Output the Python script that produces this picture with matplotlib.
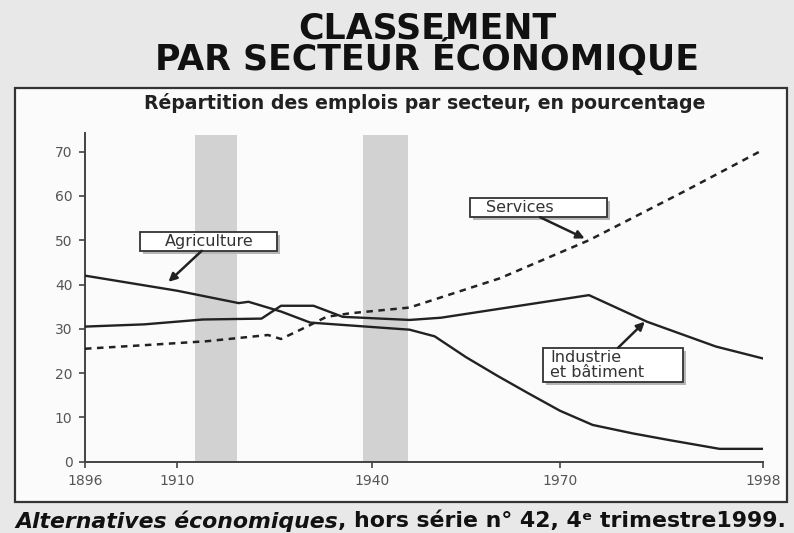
import numpy as np
import matplotlib
matplotlib.use("Agg")
import matplotlib.pyplot as plt
from matplotlib.patches import Rectangle
from matplotlib.transforms import offset_copy

# ---------------- data ----------------
tick_years = [1896, 1910, 1940, 1970, 1998]
tick_labels = ["1896", "1910", "1940", "1970", "1998"]
y_ticks = [0, 10, 20, 30, 40, 50, 60, 70]

agri_years = [1896, 1910, 1919.5, 1921, 1926, 1930.5, 1946, 1950, 1955, 1960, 1965, 1970, 1974.5, 1980, 1985, 1992, 1998]
agri_vals = [42.0, 38.6, 35.8, 36.1, 33.9, 31.4, 29.8, 28.3, 23.6, 19.4, 15.4, 11.5, 8.3, 6.4, 4.9, 2.9, 2.9]

ind_years = [1896, 1905, 1914, 1923, 1926, 1931, 1935.5, 1946, 1951, 1974, 1982, 1991.5, 1998]
ind_vals = [30.5, 31.0, 32.1, 32.3, 35.2, 35.2, 32.7, 32.0, 32.5, 37.6, 31.6, 26.0, 23.3]

serv_years = [1896, 1905, 1914.6, 1924, 1926, 1930, 1933, 1936.6, 1946, 1960.4, 1974, 1987, 1998]
serv_vals = [25.5, 26.3, 27.2, 28.6, 27.7, 30.5, 32.7, 33.5, 34.8, 41.4, 50.0, 60.9, 70.4]

wars = [(1912.8, 1919.2), (1938.6, 1945.7)]

# positions of the year ticks along the (irregular) printed axis
tick_pos = [0, 92, 287, 475, 678]

W, H = 794, 533
fig = plt.figure(figsize=(W / 100, H / 100), dpi=100)
fig.patch.set_facecolor("#e8e8e8")

# framed white panel
fig.add_artist(Rectangle((15 / W, 1 - 502 / H), 772 / W, 414 / H, transform=fig.transFigure,
                         facecolor="#fbfbfb", edgecolor="#333333", linewidth=1.6, zorder=0))

# titles
fig.text(427 / W, 1 - 70 / H, "CLASSEMENT\nPAR SECTEUR ÉCONOMIQUE", ha="center", va="baseline",
         multialignment="center", linespacing=0.8,
         fontsize=25, fontweight="bold", family="DejaVu Sans", color="#111111")
fig.text(425 / W, 1 - 103 / H, "Répartition des emplois par secteur, en pourcentage",
         ha="center", va="center", fontsize=13.6, fontweight="bold",
         family="DejaVu Sans", color="#222222")

ax = fig.add_axes([85 / W, 1 - 461.7 / H, 678 / W, 328.7 / H])
ax.set_facecolor("none")

fwd = lambda x: np.interp(x, tick_years, tick_pos)
inv = lambda x: np.interp(x, tick_pos, tick_years)
ax.set_xscale("function", functions=(fwd, inv))
ax.set_xlim(1896, 1998)
ax.set_ylim(0, 74.2)

for a, b in wars:
    ax.axvspan(a, b, ymin=0, ymax=0.993, color="#d2d2d2", lw=0, zorder=1)

lc = "#222222"
ax.plot(agri_years, agri_vals, color=lc, lw=1.7, zorder=3)
ax.plot(ind_years, ind_vals, color=lc, lw=1.7, zorder=3)
ax.plot(serv_years, serv_vals, color=lc, lw=1.8, ls=(0, (2.6, 2.2)), zorder=3)

ax.set_xticks(tick_years)
ax.set_xticklabels(tick_labels)
ax.set_yticks(y_ticks)
ax.tick_params(axis="both", direction="out", length=4, width=1.2, colors="#444444",
               labelsize=10, labelcolor="#555555", pad=5)
for s in ["top", "right"]:
    ax.spines[s].set_visible(False)
for s in ["left", "bottom"]:
    ax.spines[s].set_color("#444444")
    ax.spines[s].set_linewidth(1.4)


def label(text, box, text_xy, ha, tail, tip):
    (x0, x1), (y0, y1) = box
    sh = offset_copy(ax.transData, fig=fig, x=3, y=-3, units="dots")
    ax.add_patch(Rectangle((x0, y0), x1 - x0, y1 - y0, transform=sh,
                           facecolor="#b5b5b5", edgecolor="none", zorder=4))
    ax.add_patch(Rectangle((x0, y0), x1 - x0, y1 - y0,
                           facecolor="white", edgecolor="#333333", lw=1.3, zorder=5))
    ax.text(text_xy[0], text_xy[1], text, ha=ha, va="center", fontsize=11.5,
            color="#333333", family="DejaVu Sans", linespacing=0.95, zorder=6)
    ax.annotate("", xy=tip, xytext=tail,
                arrowprops=dict(arrowstyle="-|>", color="#222222", lw=1.8,
                                mutation_scale=12, shrinkA=0, shrinkB=0),
                zorder=5)


label("Agriculture", ((1904.4, 1925.4), (47.6, 51.8)), (1914.9, 49.7), "center",
      (1913.8, 47.6), (1908.7, 40.6))
label("Services", ((1955.6, 1976.5), (55.2, 59.5)), (1958.2, 57.4), "left",
      (1966.8, 55.2), (1973.4, 50.4))
label("Industrie\net bâtiment", ((1967.3, 1987.0), (18.0, 25.7)), (1968.4, 21.8), "left",
      (1978.0, 25.7), (1981.7, 31.6))

# footer
t1 = fig.text(15 / W, 1 - 521 / H, "Alternatives économiques", ha="left", va="center",
              fontsize=15.8, style="italic", fontweight="bold", family="DejaVu Sans",
              color="#111111")
fig.canvas.draw()
bb = t1.get_window_extent(renderer=fig.canvas.get_renderer())
fig.text(bb.x1 / W, 1 - 521 / H, ", hors série n° 42, 4ᵉ trimestre1999.", ha="left",
         va="center", fontsize=15.8, fontweight="bold", family="DejaVu Sans", color="#111111")

fig.savefig("out.png", dpi=100, facecolor=fig.get_facecolor())
